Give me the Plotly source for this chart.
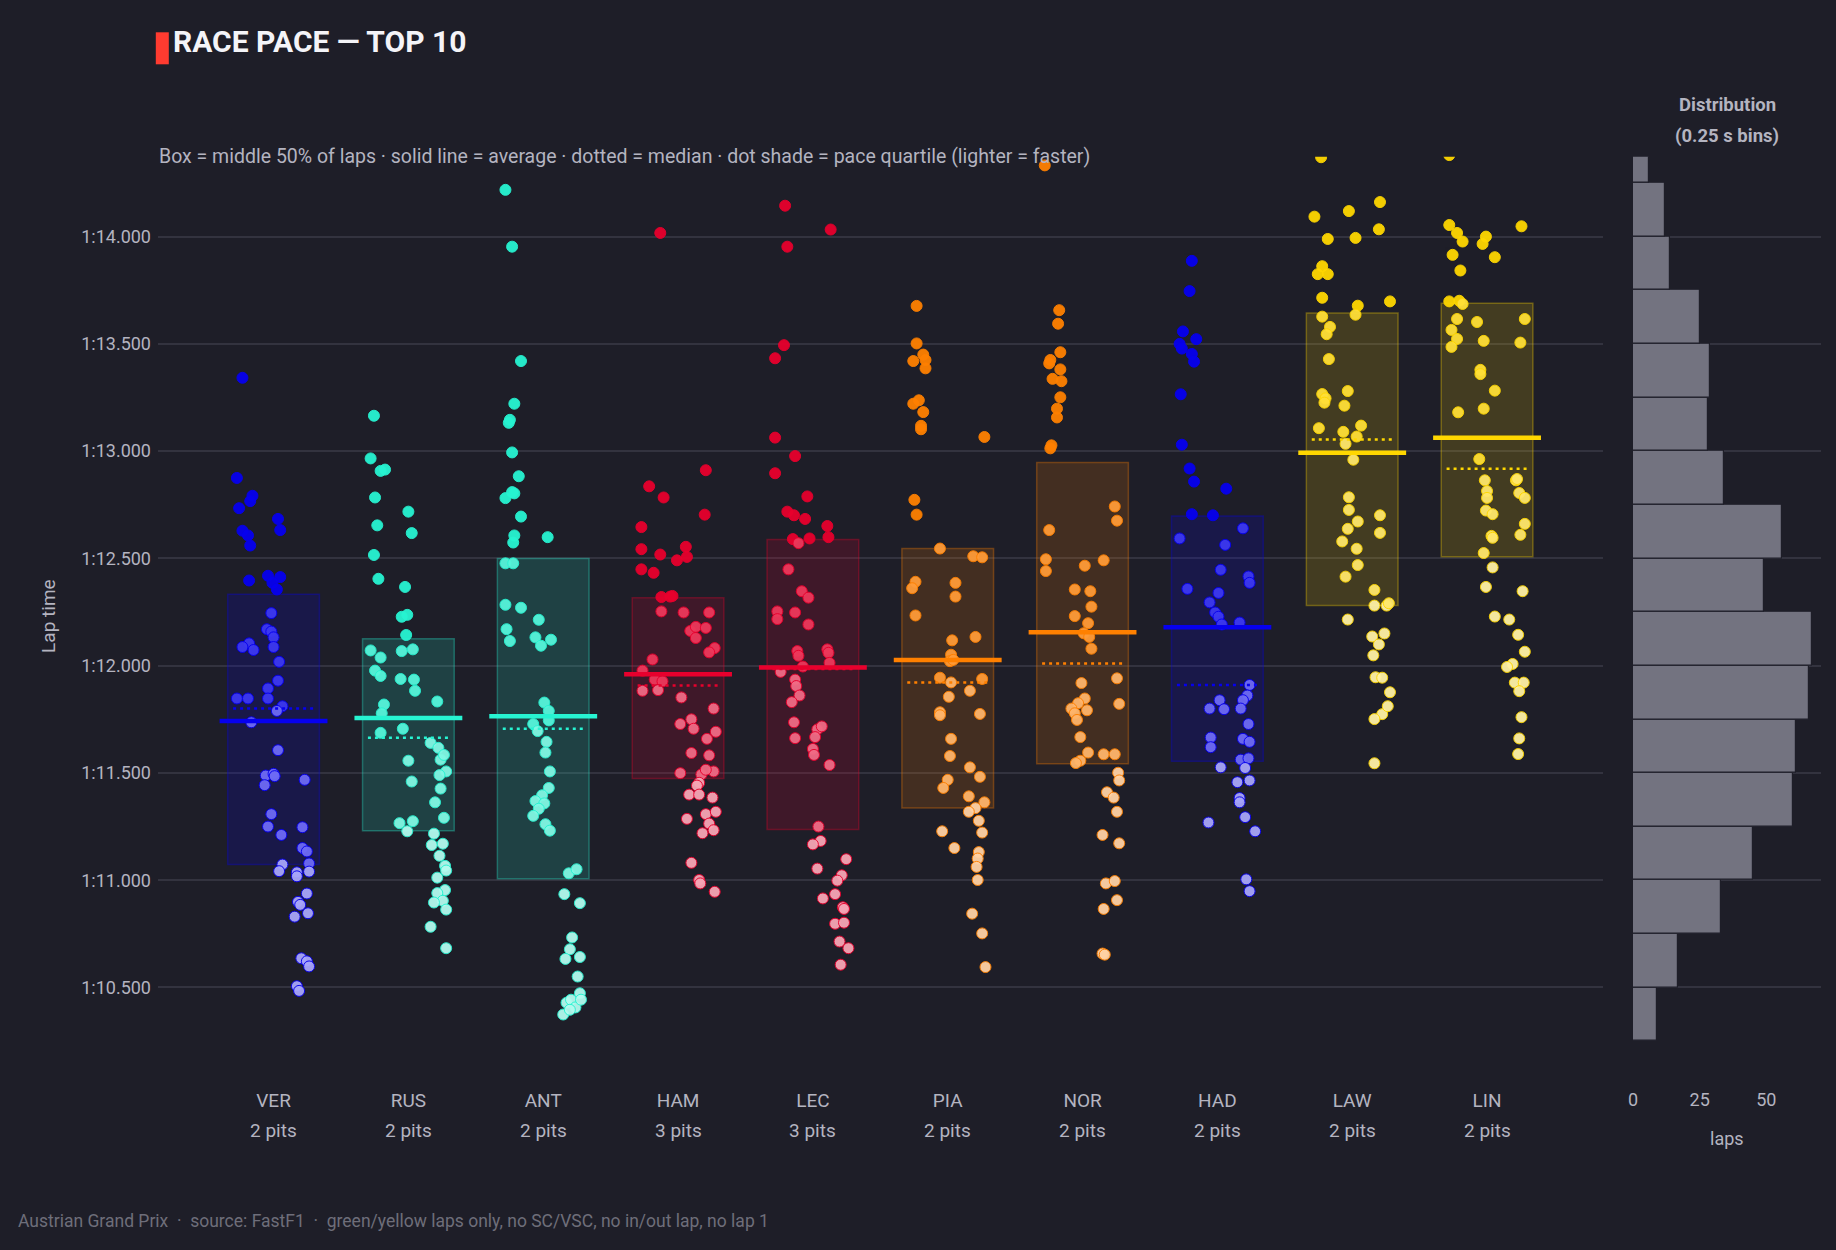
import plotly.graph_objects as go

# ---------------- data ----------------
DRIVERS = ["VER", "RUS", "ANT", "HAM", "LEC", "PIA", "NOR", "HAD", "LAW", "LIN"]
PITS = [2, 2, 2, 3, 3, 2, 2, 2, 2, 2]
TEAM_COLORS = ["#0600EF", "#27F4D2", "#27F4D2", "#E8002D", "#E8002D",
               "#FF8000", "#FF8000", "#0600EF", "#FFD700", "#FFD700"]

VER_LAP = [8, 3, 17, 15, 5, 40, 42, 8, 13, 15, 14, 31, 42, 35, 39, 34, 30, 34, 36, 14,
           8, 18, 36, 41, 40, 31, 3, 13, 31, 44, 39, 16, 40, 29, 36, 37, 28, 64, 34, 31,
           62, 43, 62, 66, 68, 44, 41, 57, 57, 68, 66, 58, 60, 55, 67, 61, 66, 68, 57, 59]
VER_TIME = [73.342, 72.875, 72.792, 72.767, 72.734, 72.684, 72.632, 72.629, 72.607, 72.560,
            72.397, 72.419, 72.413, 72.386, 72.355, 72.245, 72.170, 72.159, 72.132, 72.104,
            72.087, 72.073, 72.087, 72.018, 71.930, 71.894, 71.847, 71.847, 71.847, 71.811,
            71.789, 71.736, 71.606, 71.488, 71.496, 71.485, 71.443, 71.468, 71.308, 71.250,
            71.247, 71.211, 71.150, 71.134, 71.078, 71.073, 71.042, 71.037, 71.018, 71.040,
            70.938, 70.899, 70.885, 70.830, 70.846, 70.636, 70.622, 70.598, 70.506, 70.484]

RUS_LAP = [5, 2, 11, 15, 6, 36, 8, 39, 5, 9, 33, 30, 35, 34, 2, 11, 30, 40, 6, 11,
           29, 41, 42, 62, 14, 12, 11, 31, 56, 63, 36, 65, 68, 70, 64, 39, 65, 60, 68, 28,
           40, 35, 59, 57, 67, 64, 69, 70, 62, 69, 62, 67, 59, 70, 56, 70]
RUS_TIME = [73.165, 72.966, 72.908, 72.914, 72.784, 72.718, 72.654, 72.618, 72.516, 72.405,
            72.367, 72.228, 72.237, 72.143, 72.071, 72.038, 72.068, 72.076, 71.977, 71.952,
            71.938, 71.935, 71.883, 71.833, 71.819, 71.778, 71.687, 71.706, 71.640, 71.617,
            71.557, 71.562, 71.584, 71.507, 71.490, 71.460, 71.427, 71.363, 71.291, 71.266,
            71.275, 71.228, 71.217, 71.164, 71.170, 71.114, 71.067, 71.045, 71.012, 70.954,
            70.940, 70.904, 70.896, 70.863, 70.783, 70.683]

ANT_LAP = [2, 8, 16, 10, 6, 5, 8, 14, 2, 8, 10, 16, 10, 9, 40, 2, 9, 2, 16, 3,
           32, 6, 29, 34, 43, 37, 41, 27, 41, 31, 39, 38, 42, 41, 35, 29, 37, 32, 27, 38,
           42, 59, 66, 55, 69, 62, 60, 56, 69, 67, 69, 57, 61, 65, 70, 54, 60]
ANT_TIME = [74.218, 73.953, 73.420, 73.221, 73.146, 73.132, 72.994, 72.883, 72.781, 72.809,
            72.803, 72.695, 72.607, 72.574, 72.599, 72.477, 72.477, 72.284, 72.270, 72.170,
            72.214, 72.115, 72.132, 72.093, 72.121, 71.828, 71.789, 71.728, 71.745, 71.695,
            71.645, 71.595, 71.507, 71.430, 71.396, 71.369, 71.358, 71.333, 71.300, 71.261,
            71.231, 71.032, 71.051, 70.935, 70.893, 70.733, 70.678, 70.633, 70.642, 70.551,
            70.473, 70.429, 70.443, 70.407, 70.443, 70.374, 70.396]

HAM_LAP = [20, 10, 23, 61, 60, 3, 3, 20, 43, 44, 35, 3, 14, 21, 29, 31, 21, 41, 64, 47,
           52, 52, 61, 69, 64, 13, 4, 15, 22, 4, 18, 39, 68, 48, 38, 50, 70, 62, 48, 64,
           38, 57, 68, 61, 55, 53, 46, 55, 67, 44, 61, 70, 64, 68, 58, 48, 55, 56, 69]
HAM_TIME = [74.017, 72.836, 72.784, 72.911, 72.704, 72.646, 72.543, 72.518, 72.554, 72.507,
            72.491, 72.449, 72.433, 72.320, 72.322, 72.325, 72.253, 72.248, 72.248, 72.162,
            72.129, 72.181, 72.176, 72.082, 72.062, 72.029, 71.977, 71.935, 71.927, 71.883,
            71.886, 71.852, 71.800, 71.750, 71.728, 71.706, 71.692, 71.659, 71.593, 71.582,
            71.499, 71.493, 71.507, 71.515, 71.454, 71.441, 71.399, 71.399, 71.385, 71.286,
            71.308, 71.319, 71.264, 71.233, 71.219, 71.081, 71.001, 70.985, 70.946]

LEC_LAP = [11, 52, 13, 10, 2, 2, 20, 2, 31, 13, 19, 29, 49, 18, 23, 33, 50, 14, 26, 32,
           4, 4, 20, 32, 22, 23, 49, 50, 51, 7, 27, 20, 21, 24, 17, 19, 20, 40, 44, 38,
           36, 37, 51, 41, 43, 36, 40, 66, 62, 58, 45, 56, 63, 64, 56, 64, 60, 68, 61]
LEC_TIME = [74.144, 74.033, 73.953, 73.494, 73.433, 73.063, 72.977, 72.897, 72.789, 72.718,
            72.701, 72.684, 72.651, 72.590, 72.571, 72.593, 72.599, 72.449, 72.347, 72.317,
            72.253, 72.217, 72.248, 72.192, 72.068, 72.046, 72.076, 72.060, 72.013, 71.971,
            71.996, 71.935, 71.905, 71.861, 71.830, 71.736, 71.662, 71.703, 71.717, 71.667,
            71.612, 71.584, 71.537, 71.250, 71.183, 71.167, 71.054, 71.098, 71.023, 70.998,
            70.915, 70.935, 70.874, 70.866, 70.797, 70.802, 70.714, 70.683, 70.606]

PIA_LAP = [8, 8, 14, 5, 16, 16, 5, 10, 14, 12, 12, 69, 6, 8, 29, 59, 67, 7, 4, 43,
           43, 7, 40, 61, 39, 38, 41, 29, 39, 67, 37, 56, 29, 29, 65, 39, 38, 56, 65, 36,
           32, 55, 69, 61, 55, 64, 31, 67, 42, 64, 63, 62, 63, 58, 67, 70]
PIA_TIME = [73.677, 73.502, 73.450, 73.420, 73.425, 73.386, 73.221, 73.237, 73.182, 73.118,
            73.102, 73.066, 72.773, 72.704, 72.546, 72.510, 72.505, 72.391, 72.361, 72.386,
            72.322, 72.234, 72.118, 72.134, 72.051, 72.021, 72.027, 71.944, 71.922, 71.938,
            71.855, 71.883, 71.783, 71.769, 71.775, 71.659, 71.579, 71.526, 71.482, 71.468,
            71.430, 71.391, 71.363, 71.336, 71.319, 71.277, 71.228, 71.222, 71.150, 71.131,
            71.101, 71.062, 71.001, 70.844, 70.752, 70.595]

NOR_LAP = [2, 15, 14, 16, 7, 6, 16, 9, 17, 16, 13, 13, 8, 7, 65, 67, 6, 3, 3, 38,
           55, 29, 43, 44, 29, 41, 37, 42, 44, 35, 67, 38, 32, 26, 40, 29, 31, 69, 34, 41,
           55, 65, 34, 30, 68, 69, 58, 64, 67, 54, 69, 57, 65, 67, 55, 54, 56]
NOR_TIME = [74.332, 73.657, 73.594, 73.461, 73.425, 73.409, 73.381, 73.337, 73.326, 73.251,
            73.198, 73.157, 73.027, 73.013, 72.742, 72.676, 72.632, 72.496, 72.441, 72.466,
            72.491, 72.355, 72.347, 72.275, 72.231, 72.198, 72.151, 72.134, 72.079, 71.919,
            71.941, 71.847, 71.825, 71.800, 71.792, 71.778, 71.747, 71.822, 71.667, 71.595,
            71.587, 71.587, 71.557, 71.546, 71.501, 71.465, 71.410, 71.385, 71.319, 71.211,
            71.172, 70.985, 70.996, 70.907, 70.866, 70.658, 70.653]

HAD_LAP = [13, 11, 5, 17, 2, 4, 13, 15, 3, 4, 11, 15, 44, 13, 32, 59, 2, 43, 39, 64,
           65, 9, 37, 29, 34, 37, 40, 56, 65, 63, 59, 38, 29, 42, 57, 64, 30, 30, 59, 65,
           57, 64, 39, 61, 65, 54, 56, 56, 28, 61, 70, 62, 65]
HAD_TIME = [73.887, 73.746, 73.558, 73.522, 73.500, 73.478, 73.453, 73.417, 73.265, 73.030,
            72.919, 72.858, 72.825, 72.706, 72.701, 72.640, 72.593, 72.563, 72.447, 72.416,
            72.386, 72.358, 72.339, 72.295, 72.248, 72.228, 72.192, 72.201, 71.910, 71.861,
            71.839, 71.839, 71.800, 71.797, 71.800, 71.728, 71.665, 71.620, 71.659, 71.645,
            71.562, 71.568, 71.526, 71.523, 71.465, 71.457, 71.383, 71.363, 71.269, 71.294,
            71.228, 71.004, 70.949]

LAW_LAP = [8, 2, 33, 61, 14, 39, 60, 9, 5, 14, 9, 41, 39, 70, 9, 16, 13, 15, 9, 12,
           32, 11, 29, 6, 28, 44, 40, 30, 37, 33, 33, 61, 41, 32, 61, 27, 40, 41, 30, 56,
           56, 67, 69, 32, 54, 65, 60, 55, 57, 63, 70, 63, 68, 56, 56]
LAW_TIME = [74.370, 74.093, 74.119, 74.161, 73.989, 73.994, 74.034, 73.862, 73.825, 73.825,
            73.715, 73.678, 73.636, 73.698, 73.627, 73.579, 73.545, 73.429, 73.266, 73.246,
            73.280, 73.226, 73.212, 73.107, 73.090, 73.119, 73.068, 73.034, 72.960, 72.785,
            72.726, 72.701, 72.672, 72.638, 72.619, 72.579, 72.545, 72.469, 72.415, 72.353,
            72.280, 72.280, 72.291, 72.215, 72.136, 72.150, 72.099, 72.048, 71.946, 71.944,
            71.876, 71.774, 71.811, 71.751, 71.545]

LIN_LAP = [2, 2, 9, 14, 35, 32, 67, 5, 43, 12, 2, 11, 14, 9, 27, 70, 4, 9, 33, 4,
           66, 30, 30, 43, 10, 33, 29, 34, 62, 63, 36, 36, 65, 70, 35, 41, 70, 40, 41, 66,
           33, 41, 35, 68, 43, 56, 64, 70, 59, 54, 61, 69, 65, 67, 65, 64]
LIN_TIME = [74.380, 74.054, 74.017, 73.977, 74.000, 73.966, 74.048, 73.915, 73.904, 73.842,
            73.698, 73.701, 73.686, 73.616, 73.602, 73.616, 73.565, 73.523, 73.514, 73.486,
            73.506, 73.379, 73.359, 73.282, 73.181, 73.198, 72.963, 72.864, 72.864, 72.870,
            72.814, 72.782, 72.805, 72.782, 72.723, 72.706, 72.661, 72.605, 72.596, 72.610,
            72.525, 72.458, 72.367, 72.347, 72.229, 72.215, 72.144, 72.065, 72.008, 71.994,
            71.921, 71.921, 71.881, 71.760, 71.661, 71.588]

# per-driver summary values (seconds)
Q1_TIME = [71.073, 71.231, 71.007, 71.474, 71.236, 71.336, 71.543, 71.554, 72.280, 72.508]
MEDIAN_TIME = [71.800, 71.664, 71.706, 71.908, 71.985, 71.922, 72.010, 71.910, 73.054, 72.918]
MEAN_TIME = [71.742, 71.756, 71.764, 71.960, 71.991, 72.027, 72.156, 72.179, 72.992, 73.062]
Q3_TIME = [72.333, 72.126, 72.499, 72.317, 72.588, 72.546, 72.947, 72.698, 73.644, 73.689]

# histogram of all laps, 0.25 s bins (lower bin edge, count)
HIST_BIN_START = [70.25, 70.50, 70.75, 71.00, 71.25, 71.50, 71.75, 72.00, 72.25,
                  72.50, 72.75, 73.00, 73.25, 73.50, 73.75, 74.00, 74.25]
HIST_COUNT = [9, 17, 33, 45, 60, 61, 66, 67, 49, 56, 34, 28, 29, 25, 14, 12, 6]

Y_TICKS = [70.5, 71.0, 71.5, 72.0, 72.5, 73.0, 73.5, 74.0]
HIST_TICKS = [0, 25, 50]

LAPS = [VER_LAP, RUS_LAP, ANT_LAP, HAM_LAP, LEC_LAP, PIA_LAP, NOR_LAP, HAD_LAP, LAW_LAP, LIN_LAP]
TIMES = [VER_TIME, RUS_TIME, ANT_TIME, HAM_TIME, LEC_TIME, PIA_TIME, NOR_TIME, HAD_TIME, LAW_TIME, LIN_TIME]

# ---------------- style ----------------
BG = "#1e1e28"
GRID = "#33333f"
TXT = "#b4b4c0"
FONT = "Roboto"
LAP_SPREAD = 0.00824  # category units per lap, centred on lap 36


def hex_rgb(h):
    h = h.lstrip("#")
    return tuple(int(h[i:i + 2], 16) for i in (0, 2, 4))


def tint(h, f):
    r, g, b = hex_rgb(h)
    return "rgb(%d,%d,%d)" % (r + (255 - r) * f, g + (255 - g) * f, b + (255 - b) * f)


def rgba(h, a):
    r, g, b = hex_rgb(h)
    return "rgba(%d,%d,%d,%.3f)" % (r, g, b, a)


def fmt_lap(t):
    m = int(t // 60)
    return "%d:%06.3f" % (m, t - 60 * m)


fig = go.Figure()
shapes = []

for i, d in enumerate(DRIVERS):
    base = TEAM_COLORS[i]
    xs, cols = [], []
    for lap, t in zip(LAPS[i], TIMES[i]):
        xs.append(i + (lap - 36) * LAP_SPREAD)
        if t <= Q1_TIME[i]:
            cols.append(tint(base, 0.65))
        elif t <= MEDIAN_TIME[i]:
            cols.append(tint(base, 0.42))
        elif t <= Q3_TIME[i]:
            cols.append(tint(base, 0.22))
        else:
            cols.append(tint(base, 0.0))
    fig.add_trace(go.Scatter(
        x=xs, y=TIMES[i], mode="markers", name=d, showlegend=False,
        marker=dict(size=11, color=cols, opacity=0.95, line=dict(color=base, width=1)),
        xaxis="x", yaxis="y", hoverinfo="skip"))
    shapes.append(dict(type="rect", xref="x", yref="y", x0=i - 0.34, x1=i + 0.34,
                       y0=Q1_TIME[i], y1=Q3_TIME[i], fillcolor=rgba(base, 0.17),
                       line=dict(color=rgba(base, 0.32), width=1.5), layer="between"))
    shapes.append(dict(type="line", xref="x", yref="y", x0=i - 0.4, x1=i + 0.4,
                       y0=MEAN_TIME[i], y1=MEAN_TIME[i],
                       line=dict(color=base, width=4.5), layer="above"))
    shapes.append(dict(type="line", xref="x", yref="y", x0=i - 0.3, x1=i + 0.3,
                       y0=MEDIAN_TIME[i], y1=MEDIAN_TIME[i],
                       line=dict(color=base, width=2.5, dash="3px,4px"), layer="above"))

fig.add_trace(go.Bar(
    x=HIST_COUNT, y=[b + 0.125 for b in HIST_BIN_START], width=0.25, orientation="h",
    marker=dict(color="#737380", line=dict(color=BG, width=1.2)),
    xaxis="x2", yaxis="y2", showlegend=False, hoverinfo="skip"))

# title bar
shapes.append(dict(type="rect", xref="paper", yref="paper",
                   x0=155.8 / 1836, x1=168.8 / 1836,
                   y0=1 - 64.3 / 1250, y1=1 - 32.3 / 1250,
                   fillcolor="#ff3b30", line=dict(width=0)))

Y0, Y1 = 1 - 1075 / 1250, 1 - 156.8 / 1250

annotations = [
    dict(text="<b>RACE PACE — TOP 10</b>", x=171 / 1836, y=1 - 41 / 1250, xref="paper", yref="paper",
         xanchor="left", yanchor="middle", showarrow=False,
         font=dict(family=FONT, size=30, color="#f4f4f8")),
    dict(text="Box = middle 50% of laps · solid line = average · dotted = median · dot shade = pace quartile (lighter = faster)",
         x=157 / 1836, y=1 - 157 / 1250, xref="paper", yref="paper",
         xanchor="left", yanchor="middle", showarrow=False,
         font=dict(family=FONT, size=19.5, color=TXT)),
    dict(text="<b>Distribution</b>", x=1727 / 1836, y=1 - 105 / 1250, xref="paper", yref="paper",
         xanchor="center", yanchor="middle", showarrow=False,
         font=dict(family=FONT, size=18.5, color=TXT)),
    dict(text="<b>(0.25 s bins)</b>", x=1727 / 1836, y=1 - 136 / 1250, xref="paper", yref="paper",
         xanchor="center", yanchor="middle", showarrow=False,
         font=dict(family=FONT, size=18.5, color=TXT)),
    dict(text="laps", x=1727 / 1836, y=1 - 1138 / 1250, xref="paper", yref="paper",
         xanchor="center", yanchor="middle", showarrow=False,
         font=dict(family=FONT, size=18, color=TXT)),
    dict(text="Lap time", x=49 / 1836, y=(Y0 + Y1) / 2, xref="paper", yref="paper",
         xanchor="center", yanchor="middle", showarrow=False, textangle=-90,
         font=dict(family=FONT, size=19, color=TXT)),
    dict(text="Austrian Grand Prix  ·  source: FastF1  ·  green/yellow laps only, no SC/VSC, no in/out lap, no lap 1",
         x=16 / 1836, y=1 - 1221 / 1250, xref="paper", yref="paper",
         xanchor="left", yanchor="middle", showarrow=False,
         font=dict(family=FONT, size=17.5, color="#6e6e7a")),
]

# second tick-label line: number of pit stops
for i, p in enumerate(PITS):
    annotations.append(dict(text="%d pits" % p, x=i, xref="x", y=1 - 1130 / 1250, yref="paper",
                            xanchor="center", yanchor="middle", showarrow=False,
                            font=dict(family=FONT, size=19, color=TXT)))

fig.update_layout(
    width=1836, height=1250,
    paper_bgcolor=BG, plot_bgcolor=BG,
    margin=dict(l=0, r=0, t=0, b=0),
    font=dict(family=FONT, color=TXT),
    bargap=0,
    shapes=shapes, annotations=annotations,
    xaxis=dict(domain=[158 / 1836, 1603 / 1836], range=[-0.857, 9.86],
               tickmode="array", tickvals=list(range(len(DRIVERS))), ticktext=DRIVERS,
               showgrid=False, zeroline=False, showline=False, ticks="", ticklabelstandoff=12,
               tickfont=dict(family=FONT, size=19, color=TXT), automargin=False),
    yaxis=dict(domain=[Y0, Y1], range=[70.092, 74.372],
               tickmode="array", tickvals=Y_TICKS, ticktext=[fmt_lap(t) for t in Y_TICKS],
               showgrid=True, gridcolor=GRID, gridwidth=1.5, zeroline=False, showline=False,
               ticks="", ticklabelstandoff=6,
               tickfont=dict(family=FONT, size=18, color=TXT), automargin=False),
    xaxis2=dict(domain=[1633 / 1836, 1821 / 1836], range=[0, 70.5], anchor="y2",
                tickmode="array", tickvals=HIST_TICKS, showgrid=False, zeroline=False,
                showline=False, ticks="", ticklabelstandoff=12,
                tickfont=dict(family=FONT, size=18, color=TXT), automargin=False),
    yaxis2=dict(domain=[Y0, Y1], matches="y", anchor="x2", showticklabels=False,
                showgrid=True, gridcolor=GRID, gridwidth=1.5, zeroline=False, showline=False,
                ticks="", tickmode="array", tickvals=Y_TICKS, automargin=False),
)

fig.write_html("out.html")
